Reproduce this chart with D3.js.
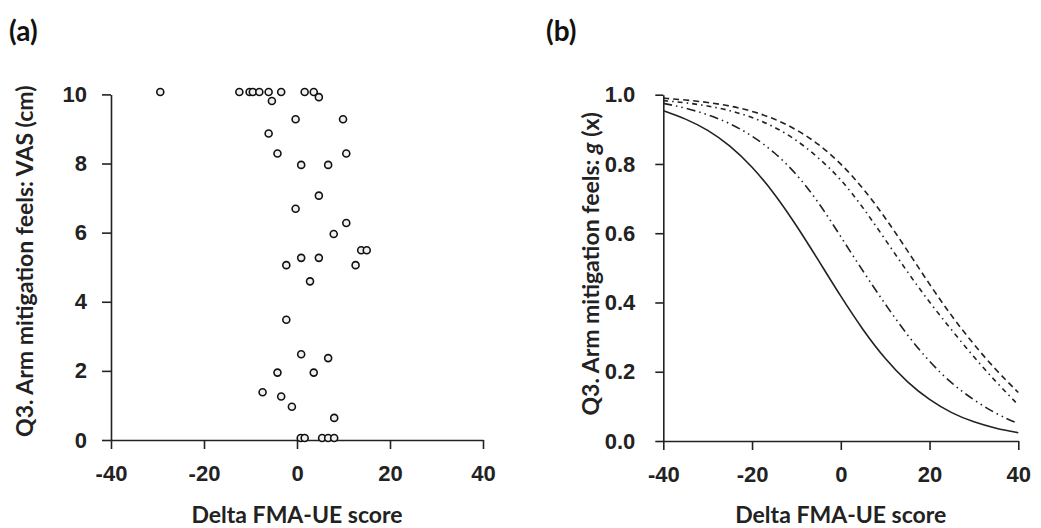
<!DOCTYPE html>
<html>
<head>
<meta charset="utf-8">
<script src="https://cdn.jsdelivr.net/npm/d3@7"></script>
<style>
  body { margin: 0; background: #fff; }
  svg { display: block; font-family: Lato, "Open Sans", sans-serif; }
  .axis text { font-size: 22px; font-weight: 700; fill: #222; }
  .axis path, .axis line { stroke: #222; stroke-width: 1.6px; }
  .title { font-size: 23px; font-weight: 700; fill: #222; }
  .panel { font-size: 28px; font-weight: 700; fill: #111; }
</style>
</head>
<body>
<main></main>
<script>
const width = 1041;
const height = 528;

// panel (a): scatter of delta FMA-UE vs VAS
const deltaFma = [-29.4, -12.4, -10.2, -9.5, -8.1, -6.1, -3.4, 1.65, 3.6, 4.7, -5.4,
  -0.3, 9.9, -6.1, -4.2, 10.6, 0.9, 6.7, 4.7, -0.3, 10.6, 7.9, 13.8, 15.0, 0.9, 4.7,
  -2.3, 12.6, 2.8, -2.3, 0.9, 6.7, -4.2, 3.6, -7.4, -3.4, -1.1, 8.0, 0.8, 1.65, 5.4, 6.7, 8.0];
const vas = [10.07, 10.07, 10.07, 10.07, 10.07, 10.07, 10.07, 10.07, 10.07, 9.92, 9.81,
  9.28, 9.28, 8.87, 8.29, 8.29, 7.96, 7.96, 7.07, 6.69, 6.28, 5.96, 5.49, 5.49, 5.27, 5.27,
  5.06, 5.06, 4.59, 3.48, 2.48, 2.37, 1.95, 1.95, 1.38, 1.26, 0.96, 0.64, 0.06, 0.06, 0.06, 0.06, 0.06];

const gX = [-40, -35, -30, -25, -20, -15, -10, -5, 0, 5, 10, 15, 20, 25, 30, 35, 40];
const gSolid = [0.954, 0.931, 0.899, 0.854, 0.793, 0.716, 0.623, 0.521, 0.417, 0.320, 0.236, 0.169, 0.118, 0.080, 0.054, 0.036, 0.024];
const gDashDotDot = [0.975, 0.962, 0.943, 0.918, 0.882, 0.835, 0.772, 0.690, 0.590, 0.490, 0.395, 0.305, 0.228, 0.165, 0.118, 0.078, 0.050];
const gDashDot = [0.983, 0.977, 0.968, 0.955, 0.935, 0.908, 0.870, 0.818, 0.757, 0.675, 0.582, 0.488, 0.400, 0.320, 0.242, 0.170, 0.104];
const gDashed = [0.990, 0.985, 0.978, 0.968, 0.953, 0.931, 0.900, 0.858, 0.802, 0.731, 0.646, 0.550, 0.452, 0.360, 0.278, 0.204, 0.140];

const xTicks = [-40, -20, 0, 20, 40];
const vasTicks = [0, 2, 4, 6, 8, 10];
const gTicks = [0, 0.2, 0.4, 0.6, 0.8, 1.0];

const svg = d3.select('main').append('svg')
  .attr('width', width)
  .attr('height', height);

// ---- panel (a)
const xa = d3.scaleLinear().domain([-40, 40]).range([111, 483]);
const ya = d3.scaleLinear().domain([0, 10]).range([440, 94.4]);

svg.append('g')
  .attr('class', 'axis')
  .attr('transform', `translate(0,${ya(0)})`)
  .call(d3.axisBottom(xa).tickValues(xTicks).tickSize(9).tickSizeOuter(0).tickPadding(16)
    .tickFormat(d => String(d)));

svg.append('g')
  .attr('class', 'axis')
  .attr('transform', `translate(${xa(-40)},0)`)
  .call(d3.axisLeft(ya).tickValues(vasTicks).tickSize(9).tickSizeOuter(0).tickPadding(15)
    .tickFormat(d => String(d)));

svg.append('g')
  .selectAll('circle')
  .data(deltaFma.map((d, i) => [d, vas[i]]))
  .enter().append('circle')
  .attr('cx', d => xa(d[0]))
  .attr('cy', d => ya(d[1]))
  .attr('r', 3.5)
  .style('fill', '#f0f0f0')
  .style('stroke', '#111')
  .style('stroke-width', '1.6px');

svg.append('text').attr('class', 'title')
  .attr('x', (xa(-40) + xa(40)) / 2).attr('y', 523)
  .attr('text-anchor', 'middle')
  .text('Delta FMA-UE score');

svg.append('text').attr('class', 'title')
  .attr('transform', `translate(33,${(ya(0) + ya(10)) / 2 - 6}) rotate(-90)`)
  .attr('text-anchor', 'middle')
  .text('Q3. Arm mitigation feels: VAS (cm)');

svg.append('text').attr('class', 'panel').attr('x', 9).attr('y', 41).text('(a)');

// ---- panel (b)
const xb = d3.scaleLinear().domain([-40, 40]).range([663.3, 1018.3]);
const yb = d3.scaleLinear().domain([0, 1]).range([441, 94.7]);

svg.append('g')
  .attr('class', 'axis')
  .attr('transform', `translate(0,${yb(0)})`)
  .call(d3.axisBottom(xb).tickValues(xTicks).tickSize(9).tickSizeOuter(0).tickPadding(16)
    .tickFormat(d => String(d)));

svg.append('g')
  .attr('class', 'axis')
  .attr('transform', `translate(${xb(-40)},0)`)
  .call(d3.axisLeft(yb).tickValues(gTicks).tickSize(8).tickSizeOuter(0).tickPadding(20)
    .tickFormat(d3.format('.1f')));

const line = d3.line()
  .x((d, i) => xb(gX[i]))
  .y(d => yb(d))
  .curve(d3.curveBasis);

const curves = [
  {vals: gSolid, dash: null},
  {vals: gDashDotDot, dash: '9 4 1.5 4 1.5 4'},
  {vals: gDashDot, dash: '5 4 1.5 4'},
  {vals: gDashed, dash: '6 4'}
];

svg.append('g')
  .selectAll('path')
  .data(curves)
  .enter().append('path')
  .attr('d', d => line(d.vals))
  .style('fill', 'none')
  .style('stroke', '#222')
  .style('stroke-width', '1.6px')
  .style('stroke-dasharray', d => d.dash);

svg.append('text').attr('class', 'title')
  .attr('x', (xb(-40) + xb(40)) / 2).attr('y', 523)
  .attr('text-anchor', 'middle')
  .text('Delta FMA-UE score');

const yTitleB = svg.append('text').attr('class', 'title')
  .attr('transform', `translate(599,${(yb(0) + yb(1)) / 2 - 4}) rotate(-90)`)
  .attr('text-anchor', 'middle');
yTitleB.append('tspan').text('Q3. Arm mitigation feels: ');
yTitleB.append('tspan').style('font-style', 'italic').text('g');
yTitleB.append('tspan').text(' (x)');

svg.append('text').attr('class', 'panel').attr('x', 546).attr('y', 41).text('(b)');
</script>
</body>
</html>
